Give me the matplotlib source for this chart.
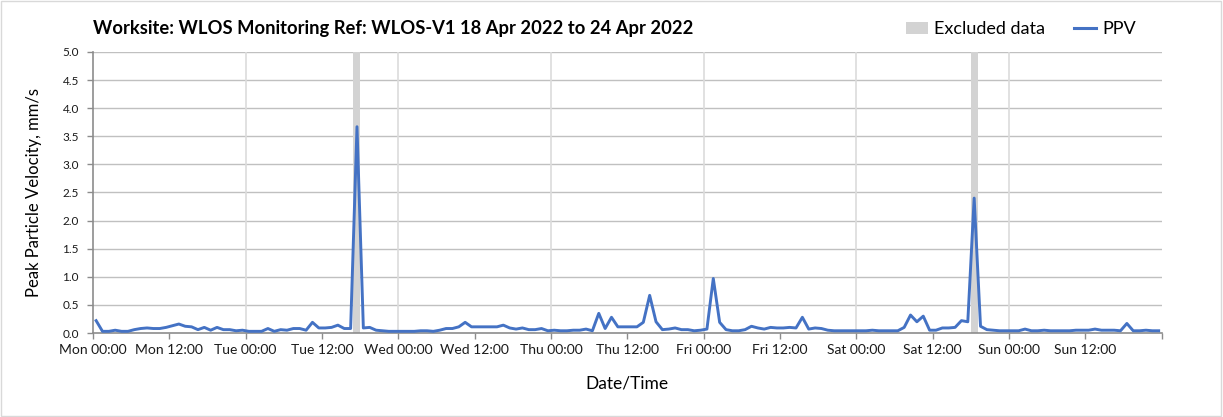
#!/usr/bin/env python3
"""Hourly PPV trace for the WLOS-V1 monitor, 18-24 Apr 2022."""

import matplotlib
matplotlib.use("Agg")
import matplotlib.pyplot as plt
from matplotlib.patches import Patch, Rectangle
from matplotlib.lines import Line2D

plt.rcParams["font.family"] = ["Lato", "DejaVu Sans"]

# hours since Mon 00:00, one reading per hour (mid-hour stamp)
hours = [h + 0.5 for h in range(168)]

ppv = [
    # Mon
    0.22, 0.03, 0.03, 0.05, 0.03, 0.03, 0.06, 0.08, 0.09, 0.08, 0.08, 0.10,
    0.13, 0.16, 0.12, 0.11, 0.06, 0.10, 0.05, 0.10, 0.06, 0.06, 0.04, 0.05,
    # Tue
    0.03, 0.03, 0.03, 0.08, 0.03, 0.06, 0.05, 0.08, 0.08, 0.05, 0.19, 0.09,
    0.09, 0.10, 0.14, 0.08, 0.08, 3.67, 0.09, 0.10, 0.05, 0.04, 0.03, 0.03,
    # Wed
    0.03, 0.03, 0.03, 0.04, 0.04, 0.03, 0.05, 0.08, 0.08, 0.11, 0.19, 0.11,
    0.11, 0.11, 0.11, 0.11, 0.14, 0.09, 0.07, 0.09, 0.06, 0.06, 0.08, 0.04,
    # Thu
    0.05, 0.04, 0.04, 0.05, 0.05, 0.07, 0.04, 0.35, 0.08, 0.28, 0.11, 0.11,
    0.11, 0.11, 0.19, 0.67, 0.20, 0.06, 0.07, 0.09, 0.06, 0.06, 0.04, 0.05,
    # Fri
    0.07, 0.97, 0.19, 0.06, 0.04, 0.04, 0.06, 0.12, 0.09, 0.07, 0.10, 0.09,
    0.09, 0.10, 0.09, 0.28, 0.07, 0.09, 0.08, 0.05, 0.04, 0.04, 0.04, 0.04,
    # Sat
    0.04, 0.04, 0.05, 0.04, 0.04, 0.04, 0.04, 0.10, 0.32, 0.20, 0.30, 0.05,
    0.05, 0.09, 0.09, 0.10, 0.22, 0.20, 2.40, 0.12, 0.06, 0.05, 0.04, 0.04,
    # Sun
    0.04, 0.04, 0.07, 0.04, 0.04, 0.05, 0.04, 0.04, 0.04, 0.04, 0.05, 0.05,
    0.05, 0.07, 0.05, 0.05, 0.05, 0.04, 0.17, 0.04, 0.04, 0.05, 0.04, 0.04,
]

# readings flagged as excluded (hour centres) and bar height
excluded_hours = [41.5, 138.5]
excluded_height = 5.0

days = ["Mon", "Tue", "Wed", "Thu", "Fri", "Sat", "Sun"]
tick_hours = list(range(0, 169, 12))
tick_labels = [f"{days[h // 24]} {h % 24:02d}:00" for h in tick_hours[:-1]] + [""]

y_ticks = [0.0, 0.5, 1.0, 1.5, 2.0, 2.5, 3.0, 3.5, 4.0, 4.5, 5.0]

BLUE = "#4472C4"
GREY_BAR = "#D3D3D3"

fig = plt.figure(figsize=(12.23, 4.17), dpi=100)
ax = fig.add_axes([0.076, 0.2014, 0.874, 0.674])

# gridlines first so the data sits on top
for y in y_ticks[1:]:
    ax.axhline(y, color="#C0C0C0", lw=1.0, zorder=0)
for d in range(24, 168, 24):
    ax.axvline(d, color="#DCDCDC", lw=1.2, zorder=0)

ax.bar(excluded_hours, [excluded_height] * len(excluded_hours), width=1.1,
       color=GREY_BAR, zorder=1)
ax.plot(hours, ppv, color=BLUE, lw=2.1, zorder=3)

ax.set_xlim(0, 168)
ax.set_ylim(0, 5.0)
ax.set_xticks(tick_hours)
ax.set_xticklabels(tick_labels, fontsize=10)
ax.set_yticks(y_ticks)
ax.set_yticklabels([f"{v:.1f}" for v in y_ticks], fontsize=8.5)

for side in ("top", "right"):
    ax.spines[side].set_visible(False)
for side in ("left", "bottom"):
    ax.spines[side].set_color("#8C8C8C")
    ax.spines[side].set_linewidth(1.2)
ax.tick_params(axis="both", colors="#8C8C8C", length=4, width=1, labelcolor="#1A1A1A")
ax.tick_params(axis="y", pad=6)
ax.tick_params(axis="x", pad=4)

ax.set_xlabel("Date/Time", fontsize=12.5, labelpad=14)
ax.set_ylabel("Peak Particle Velocity, mm/s", fontsize=12, labelpad=15)

fig.text(0.076, 0.932, "Worksite: WLOS Monitoring Ref: WLOS-V1 18 Apr 2022 to 24 Apr 2022",
         fontsize=13.2, fontweight="bold", ha="left", va="center")

handles = [Patch(facecolor=GREY_BAR, edgecolor="none", label="Excluded data"),
           Line2D([0], [0], color=BLUE, lw=2.2, label="PPV")]
fig.legend(handles=handles, loc="center right", bbox_to_anchor=(0.942, 0.93),
           ncol=2, frameon=False, fontsize=13, handlelength=1.2,
           handletextpad=0.35, columnspacing=1.6)

# thin frame round the whole chart
fig.add_artist(Rectangle((0.001, 0.002), 0.997, 0.995, transform=fig.transFigure,
                         fill=False, edgecolor="#D9D9D9", lw=1))

fig.savefig("out.png", dpi=100)
